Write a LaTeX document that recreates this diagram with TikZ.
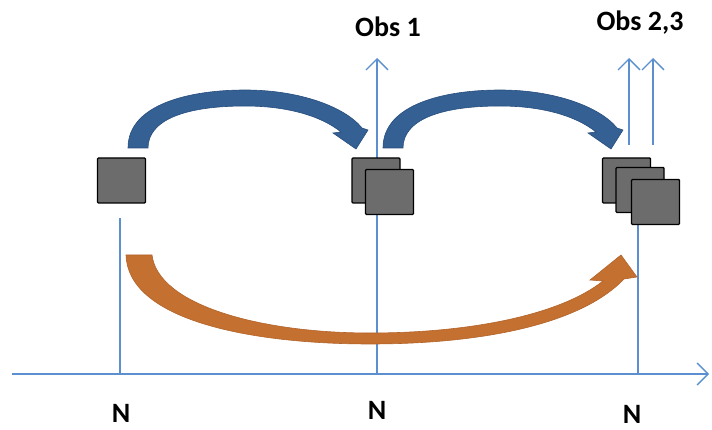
\documentclass[tikz,border=0pt]{standalone}
\usepackage{fontspec}
\setmainfont{Carlito}
\usetikzlibrary{arrows.meta}
\definecolor{axisblue}{RGB}{91,143,208}
\definecolor{arcblue}{RGB}{52,96,148}
\definecolor{arcblueedge}{RGB}{40,78,125}
\definecolor{arcorange}{RGB}{196,112,48}
\definecolor{arcorangeedge}{RGB}{178,100,42}
\definecolor{boxgray}{RGB}{108,108,108}
\begin{document}
\begin{tikzpicture}[x=1pt,y=-1pt,
  vline/.style={draw=axisblue, line width=1.3pt},
  barb/.style={-{Straight Barb[length=11pt,width=22pt,line width=1.3pt]}},
  imgbox/.style={draw=black, line width=1.4pt, fill=boxgray, rounded corners=1pt,
                 minimum width=48pt, minimum height=45pt, inner sep=0pt},
  lbl/.style={font=\bfseries\fontsize{28}{28}\selectfont, text=black, inner sep=0pt},
  bluearc/.pic={
    \filldraw[fill=arcblue, draw=arcblueedge, line width=0.6pt]
      (0,0) .. controls (0,-44) and (62,-58) .. (117,-58)
      .. controls (172,-58) and (217,-41) .. (234,-20)
      -- (240,-18) -- (228,1) -- (205,-15) -- (213,-16)
      .. controls (192,-33) and (157,-42) .. (117,-42)
      .. controls (57,-42) and (20,-28) .. (20,0) -- cycle;
  }]
\useasboundingbox (0,0) rectangle (712,430);

% coordinates for line ends
\coordinate (axL) at (12,374);
\coordinate (axR) at (709,374);
\coordinate (t1) at (120,374);
\coordinate (t1top) at (120,218);
\coordinate (t2) at (377,374);
\coordinate (o1top) at (377,58);
\coordinate (t3) at (638,374);
\coordinate (t3top) at (638,223);
\coordinate (o2bot) at (629,145);
\coordinate (o2top) at (629,58);
\coordinate (o3bot) at (653,145);
\coordinate (o3top) at (653,58);

% axis and vertical lines
\draw[vline, barb] (axL) -- (axR);
\draw[vline] (t1) -- (t1top);
\draw[vline, barb] (t2) -- (o1top);
\draw[vline] (t3) -- (t3top);
\draw[vline, barb] (o2bot) -- (o2top);
\draw[vline, barb] (o3bot) -- (o3top);

% image squares
\node[imgbox] (s1) at (121.5,180.5) {};
\node[imgbox] (s2a) at (376,180.5) {};
\node[imgbox] (s2b) at (389.5,192) {};
\node[imgbox] (s3a) at (626.5,180.5) {};
\node[imgbox] (s3b) at (640,190) {};
\node[imgbox] (s3c) at (655.5,202) {};

% curved blue arrows
\pic at (128,148) {bluearc};
\pic at (383,148) {bluearc};

% curved orange arrow
\filldraw[fill=arcorange, draw=arcorangeedge, line width=0.6pt]
  (126,255) -- (152,255)
  .. controls (158,305) and (260,333) .. (370,333)
  .. controls (470,333) and (560,315) .. (603,281)
  -- (590,280) -- (621,255) -- (637,277) -- (624,279)
  .. controls (580,325) and (480,344) .. (370,344)
  .. controls (250,344) and (128,320) .. (126,255) -- cycle;

% labels
\node[lbl] (obs1) at (388,27) {Obs 1};
\node[lbl] (obs23) at (640,23) {Obs 2,3};
\node[lbl] (n1) at (121,413) {N};
\node[lbl] (n2) at (377,410) {N};
\node[lbl] (n3) at (632,414) {N};
\end{tikzpicture}
\end{document}
